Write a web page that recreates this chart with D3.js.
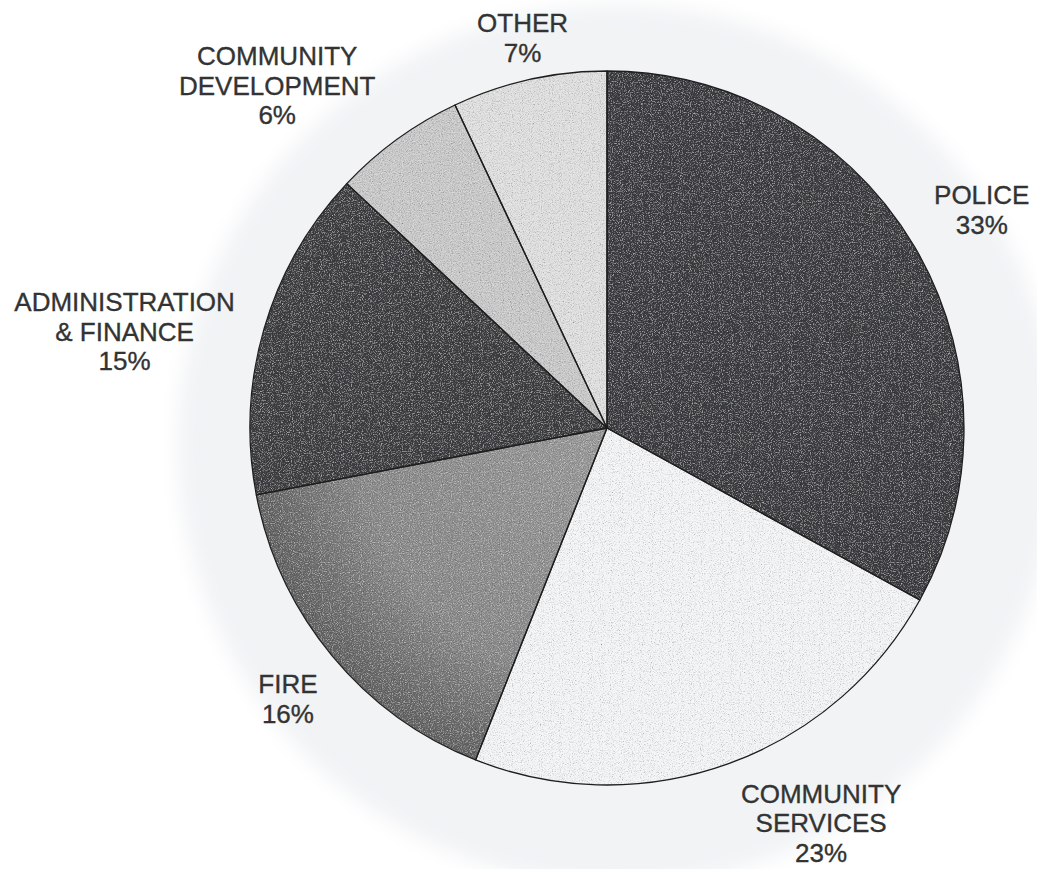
<!DOCTYPE html>
<html lang="en">
<head>
<meta charset="UTF-8">
<title>Budget by department</title>
<script src="https://d3js.org/d3.v7.min.js"></script>
<style>
    body {
        margin: 0;
        background: #fff;
        overflow: hidden;
    }
    .label {
        font-family: "Liberation Sans", Arial, sans-serif;
        font-size: 26px;
        fill: #333;
        stroke: #333;
        stroke-width: 0.35px;
        text-anchor: middle;
    }
</style>
</head>
<body>
<svg id="chart"></svg>
<script>
    // data (clockwise from 12 o'clock)
    const departments = ["POLICE", "COMMUNITY SERVICES", "FIRE", "ADMINISTRATION & FINANCE", "COMMUNITY DEVELOPMENT", "OTHER"];
    const labelLines = [["POLICE"], ["COMMUNITY", "SERVICES"], ["FIRE"], ["ADMINISTRATION", "& FINANCE"], ["COMMUNITY", "DEVELOPMENT"], ["OTHER"]];
    const shares = [33, 23, 16, 15, 6, 7];

    // look
    const sliceColors = ["#3b3c40", "#f3f4f5", "url(#fireShade)", "#3d3e41", "#c9c9c9", "#dfdfdf"];
    // label nudge from the outer centroid, px
    const labelNudge = [[6, 0], [69, -8], [11, -2], [-71, 23], [-78, 4], [9, 28]];

    const width = 1037, height = 869;
    const cx = 607, cy = 428, R = 357;
    const lineH = 29.5;

    const svg = d3.select("#chart").attr("width", width).attr("height", height);

    const defs = svg.append("defs");

    // fire slice gets darker toward the rim, like the print
    const rg = defs.append("radialGradient").attr("id", "fireShade")
        .attr("gradientUnits", "userSpaceOnUse")
        .attr("cx", 0).attr("cy", 0).attr("r", R);
    rg.append("stop").attr("offset", "0%").attr("stop-color", "#9a9a9a");
    rg.append("stop").attr("offset", "70%").attr("stop-color", "#8a8a8a");
    rg.append("stop").attr("offset", "100%").attr("stop-color", "#626262");

    // noise grain for the printed look
    const f = defs.append("filter").attr("id", "grain")
        .attr("x", "0%").attr("y", "0%").attr("width", "100%").attr("height", "100%");
    f.append("feTurbulence").attr("type", "fractalNoise").attr("baseFrequency", "0.9")
        .attr("numOctaves", 2).attr("seed", 7).attr("result", "noise");
    f.append("feColorMatrix").attr("in", "noise").attr("type", "matrix")
        .attr("values", "0.33 0.33 0.33 0 0  0.33 0.33 0.33 0 0  0.33 0.33 0.33 0 0  0 0 0 0 1")
        .attr("result", "gray");
    f.append("feBlend").attr("in", "SourceGraphic").attr("in2", "gray").attr("mode", "overlay").attr("result", "mix");
    f.append("feComposite").attr("in", "mix").attr("in2", "SourceGraphic").attr("operator", "in");

    defs.append("filter").attr("id", "soft")
        .attr("x", "-10%").attr("y", "-10%").attr("width", "120%").attr("height", "120%")
        .append("feGaussianBlur").attr("stdDeviation", 10);

    // faint show-through from the other side of the page
    svg.append("circle")
        .attr("cx", cx + 11).attr("cy", cy + 17).attr("r", 440)
        .attr("fill", "#f1f3f5")
        .attr("filter", "url(#soft)");

    const g = svg.append("g").attr("transform", `translate(${cx},${cy})`);

    const pie = d3.pie().sort(null).value(d => d)(shares);
    const arc = d3.arc().innerRadius(0).outerRadius(R);
    const outer = d3.arc().innerRadius(R * 1.2).outerRadius(R * 1.2);

    g.append("g")
        .attr("filter", "url(#grain)")
        .selectAll("path")
        .data(pie)
        .join("path")
        .attr("d", arc)
        .attr("fill", (d, i) => sliceColors[i]);

    g.append("g")
        .selectAll("path")
        .data(pie)
        .join("path")
        .attr("d", arc)
        .attr("fill", "none")
        .attr("stroke", "#1e1e1e")
        .attr("stroke-width", 1.3)
        .attr("stroke-linejoin", "round");

    // labels
    const labels = g.append("g")
        .selectAll("text")
        .data(pie)
        .join("text")
        .attr("class", "label")
        .attr("transform", (d, i) => {
            const [x, y] = outer.centroid(d);
            return `translate(${x + labelNudge[i][0]},${y + labelNudge[i][1]})`;
        });

    labels.each(function (d, i) {
        const lines = labelLines[i].concat([shares[i] + "%"]);
        const top = -(lines.length - 1) * lineH / 2;
        d3.select(this).selectAll("tspan")
            .data(lines)
            .join("tspan")
            .attr("x", 0)
            .attr("y", (t, k) => top + k * lineH)
            .attr("dy", "0.35em")
            .text(t => t);
    });
</script>
</body>
</html>
